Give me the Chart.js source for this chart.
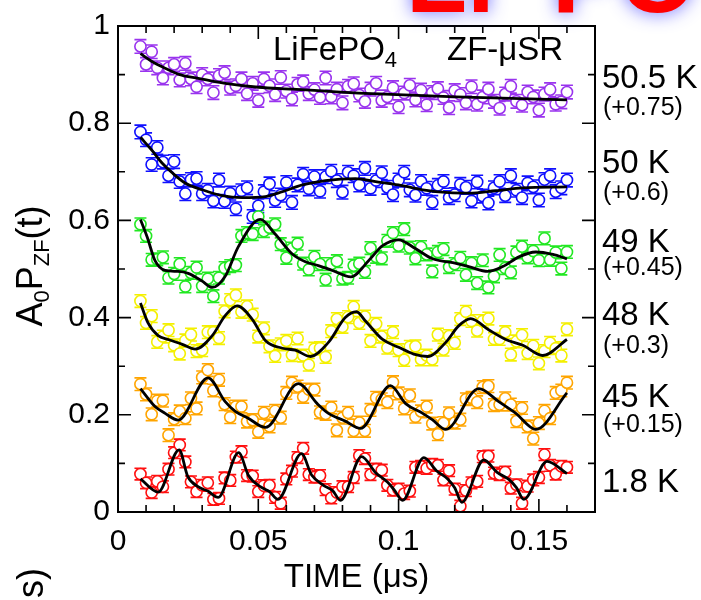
<!DOCTYPE html>
<html>
<head>
<meta charset="utf-8">
<script src="https://cdn.jsdelivr.net/npm/chart.js@4.4.0/dist/chart.umd.min.js"></script>
<style>
  html, body { margin: 0; padding: 0; background: #fff; }
  #wrap { width: 701px; height: 600px; }
</style>
</head>
<body>
<div id="wrap"><canvas id="muonChart" width="701" height="600"></canvas></div>
<script>
// tempos das medidas (us)
const times = [0.008,0.010,0.012,0.014,0.016,0.018,0.020,0.022,0.024,0.026,0.028,0.030,0.032,0.034,0.036,0.038,0.040,0.042,0.044,0.046,
  0.048,0.050,0.052,0.054,0.056,0.058,0.060,0.062,0.064,0.066,0.068,0.070,0.072,0.074,0.076,0.078,0.080,0.082,0.084,0.086,
  0.088,0.090,0.092,0.094,0.096,0.098,0.100,0.102,0.104,0.106,0.108,0.110,0.112,0.114,0.116,0.118,0.120,0.122,0.124,0.126,
  0.128,0.130,0.132,0.134,0.136,0.138,0.140,0.142,0.144,0.146,0.148,0.150,0.152,0.154,0.156,0.158,0.160];

// A0P(t) medido, ja com o deslocamento de cada curva
const asym18 = [0.078,0.060,0.040,0.063,0.052,0.088,0.122,0.138,0.103,0.062,0.042,0.055,0.060,0.026,0.028,0.070,0.065,0.113,0.124,0.075,
  0.074,0.042,0.054,0.055,0.030,0.018,0.068,0.084,0.112,0.131,0.077,0.072,0.075,0.046,0.029,0.040,0.052,0.052,0.071,0.116,
  0.110,0.077,0.088,0.086,0.055,0.045,0.047,0.038,0.043,0.092,0.094,0.090,0.098,0.096,0.066,0.085,0.047,0.012,0.044,0.060,
  0.063,0.114,0.115,0.080,0.077,0.082,0.049,0.056,0.018,0.053,0.066,0.071,0.118,0.096,0.078,0.094,0.092];
const asym45 = [0.263,0.242,0.201,0.229,0.229,0.158,0.191,0.207,0.193,0.234,0.213,0.277,0.292,0.250,0.272,0.222,0.195,0.217,0.217,0.186,
  0.189,0.165,0.204,0.176,0.208,0.194,0.245,0.266,0.258,0.237,0.252,0.252,0.205,0.202,0.215,0.168,0.194,0.204,0.167,0.184,
  0.167,0.210,0.235,0.232,0.226,0.267,0.244,0.213,0.240,0.196,0.207,0.217,0.182,0.160,0.183,0.203,0.184,0.190,0.232,0.235,
  0.226,0.257,0.259,0.220,0.221,0.234,0.221,0.187,0.214,0.176,0.151,0.183,0.208,0.193,0.245,0.250,0.266];
const asym48 = [0.434,0.389,0.403,0.350,0.361,0.374,0.343,0.326,0.353,0.365,0.331,0.333,0.370,0.370,0.358,0.413,0.436,0.446,0.412,0.423,
  0.406,0.361,0.378,0.341,0.321,0.345,0.352,0.323,0.357,0.322,0.303,0.336,0.337,0.319,0.372,0.397,0.381,0.401,0.422,0.389,
  0.402,0.352,0.387,0.361,0.338,0.370,0.333,0.313,0.340,0.341,0.314,0.322,0.314,0.365,0.334,0.362,0.348,0.397,0.412,0.393,
  0.373,0.393,0.398,0.356,0.356,0.370,0.324,0.351,0.364,0.327,0.342,0.306,0.331,0.348,0.337,0.322,0.376];
const asym49 = [0.592,0.568,0.519,0.520,0.524,0.482,0.490,0.510,0.464,0.492,0.503,0.465,0.480,0.444,0.482,0.502,0.506,0.508,0.568,0.574,
  0.572,0.608,0.578,0.585,0.592,0.551,0.523,0.542,0.552,0.511,0.499,0.525,0.510,0.478,0.510,0.516,0.480,0.482,0.507,0.511,
  0.494,0.543,0.525,0.522,0.558,0.574,0.548,0.582,0.544,0.522,0.545,0.530,0.495,0.535,0.541,0.504,0.510,0.523,0.488,0.512,
  0.471,0.518,0.462,0.485,0.529,0.502,0.493,0.534,0.546,0.524,0.537,0.518,0.563,0.519,0.534,0.501,0.535];
const asym50 = [0.782,0.766,0.715,0.750,0.720,0.692,0.721,0.680,0.655,0.684,0.686,0.655,0.662,0.640,0.683,0.639,0.656,0.624,0.661,0.667,
  0.608,0.630,0.659,0.675,0.641,0.652,0.678,0.637,0.673,0.695,0.665,0.690,0.660,0.690,0.701,0.682,0.658,0.699,0.692,0.673,
  0.707,0.666,0.682,0.698,0.668,0.653,0.683,0.699,0.663,0.652,0.680,0.666,0.637,0.672,0.680,0.647,0.653,0.674,0.668,0.640,
  0.679,0.650,0.636,0.667,0.680,0.651,0.692,0.662,0.647,0.677,0.669,0.642,0.684,0.692,0.659,0.667,0.683];
const asym505 = [0.958,0.921,0.947,0.914,0.893,0.914,0.921,0.889,0.923,0.891,0.875,0.900,0.891,0.863,0.898,0.904,0.872,0.877,0.891,0.861,
  0.882,0.847,0.891,0.877,0.859,0.894,0.866,0.850,0.880,0.885,0.861,0.869,0.853,0.893,0.854,0.870,0.842,0.876,0.881,0.858,
  0.845,0.870,0.882,0.847,0.854,0.873,0.834,0.862,0.878,0.848,0.868,0.838,0.863,0.871,0.853,0.832,0.867,0.859,0.842,0.875,
  0.839,0.854,0.870,0.845,0.831,0.860,0.876,0.845,0.837,0.864,0.854,0.827,0.860,0.869,0.839,0.844,0.864];

// curvas de ajuste
const fitT18 = [0.008,0.0143,0.0218,0.0248,0.0285,0.032,0.0357,0.043,0.0465,0.0507,0.054,0.057,0.0654,0.069,0.0732,0.0765,0.0793,
  0.0868,0.0918,0.0961,0.0985,0.1014,0.109,0.1135,0.1175,0.120,0.1225,0.1304,0.135,0.1393,0.142,0.1446,0.1529,0.160];
const fitV18 = [0.068,0.041,0.128,0.074,0.052,0.043,0.030,0.122,0.075,0.052,0.042,0.026,0.120,0.076,0.055,0.044,0.024,
  0.114,0.081,0.061,0.045,0.024,0.112,0.085,0.068,0.050,0.020,0.107,0.082,0.067,0.050,0.026,0.104,0.079];
const fitT45 = [0.008,0.0132,0.0168,0.0214,0.0321,0.0382,0.0418,0.0464,0.0525,0.0643,0.071,0.075,0.081,0.0864,0.0971,0.1025,
  0.1086,0.112,0.1168,0.1286,0.1357,0.1418,0.1489,0.160];
const fitV45 = [0.254,0.217,0.203,0.189,0.276,0.227,0.207,0.193,0.174,0.264,0.223,0.203,0.187,0.172,0.260,0.223,
  0.203,0.190,0.170,0.254,0.227,0.203,0.170,0.245];
const fitT48 = [0.008,0.0107,0.0143,0.0179,0.0229,0.0275,0.0336,0.0382,0.0425,0.0479,0.0525,0.0586,0.0632,0.0686,0.075,0.081,
  0.085,0.0882,0.0943,0.100,0.1054,0.1104,0.1168,0.1214,0.1257,0.1321,0.1382,0.1443,0.1514,0.160];
const fitV48 = [0.430,0.389,0.363,0.355,0.345,0.335,0.363,0.404,0.424,0.396,0.353,0.337,0.333,0.320,0.349,0.400,
  0.412,0.393,0.355,0.339,0.325,0.320,0.349,0.383,0.398,0.375,0.355,0.343,0.322,0.355];
const fitT49 = [0.008,0.0104,0.0132,0.0168,0.0214,0.025,0.030,0.0336,0.0382,0.0429,0.0507,0.056,0.0621,0.0668,0.0714,0.0764,
  0.083,0.0893,0.0943,0.100,0.106,0.1121,0.1193,0.125,0.1318,0.1371,0.1429,0.1489,0.155,0.160];
const fitV49 = [0.602,0.566,0.517,0.497,0.495,0.491,0.475,0.462,0.485,0.546,0.602,0.572,0.531,0.515,0.507,0.497,
  0.484,0.517,0.548,0.560,0.542,0.521,0.513,0.505,0.495,0.505,0.525,0.535,0.530,0.521];
const fitT50 = [0.008,0.0121,0.0157,0.0193,0.0239,0.030,0.0371,0.0443,0.0525,0.0586,0.0657,0.0739,0.0846,0.0918,0.100,0.1086,
  0.1179,0.125,0.1346,0.1443,0.160];
const fitV50 = [0.771,0.744,0.718,0.698,0.677,0.663,0.651,0.647,0.649,0.659,0.673,0.682,0.686,0.680,0.673,0.663,
  0.657,0.656,0.661,0.667,0.669];
const fitT505 = [0.008,0.0121,0.0168,0.0214,0.0286,0.0382,0.050,0.0621,0.0739,0.0857,0.1204,0.160];
const fitV505 = [0.943,0.927,0.913,0.901,0.892,0.882,0.874,0.870,0.866,0.862,0.854,0.848];

// barras de erro (meia largura)
const errBars = [0.012, 0.013, 0.013, 0.013, 0.014, 0.014];

const seriesColors = ['#ff1010', '#ffa500', '#f4f000', '#22e822', '#1010ff', '#9933ee'];
const tempLabels = ['1.8 K', '45 K', '48 K', '49 K', '50 K', '50.5 K'];
const shiftLabels = ['', '(+0.15)', '(+0.3)', '(+0.45)', '(+0.6)', '(+0.75)'];

const allData = [asym18, asym45, asym48, asym49, asym50, asym505];
const allFitT = [fitT18, fitT45, fitT48, fitT49, fitT50, fitT505];
const allFitV = [fitV18, fitV45, fitV48, fitV49, fitV50, fitV505];

const FONT = "'Liberation Sans', Arial, sans-serif";

const datasets = [];
allData.forEach(function(vals, i) {
    datasets.push({
        type: 'scatter',
        data: vals.map(function(v, k) { return {x: times[k], y: v}; }),
        errY: errBars[i],
        borderColor: seriesColors[i],
        backgroundColor: '#ffffff',
        pointRadius: 5.6,
        pointBorderWidth: 1.6,
        pointStyle: 'circle',
        order: 2
    });
});
allFitT.forEach(function(ts, i) {
    datasets.push({
        type: 'line',
        data: ts.map(function(t, k) { return {x: t, y: allFitV[i][k]}; }),
        borderColor: '#000',
        borderWidth: 2.8,
        pointRadius: 0,
        fill: false,
        cubicInterpolationMode: 'monotone',
        order: 0
    });
});

// barras de erro
const errorBarPlugin = {
    id: 'errorBars',
    beforeDatasetsDraw(chart) {
        const {ctx, scales: {x, y}} = chart;
        chart.data.datasets.forEach(function(ds) {
            if (!ds.errY) return;
            ctx.save();
            ctx.strokeStyle = ds.borderColor;
            ctx.lineWidth = 1.6;
            ctx.beginPath();
            ds.data.forEach(function(p) {
                const px = x.getPixelForValue(p.x);
                const yt = y.getPixelForValue(p.y + ds.errY);
                const yb = y.getPixelForValue(p.y - ds.errY);
                ctx.moveTo(px, yt); ctx.lineTo(px, yb);
                ctx.moveTo(px - 6, yt); ctx.lineTo(px + 6, yt);
                ctx.moveTo(px - 6, yb); ctx.lineTo(px + 6, yb);
            });
            ctx.stroke();
            ctx.restore();
        });
    }
};

// moldura e marcas para dentro nos quatro lados
const framePlugin = {
    id: 'frame',
    afterDatasetsDraw(chart) {
        const {ctx, chartArea: a, scales: {x, y}} = chart;
        ctx.save();
        ctx.strokeStyle = '#000';
        ctx.lineWidth = 2;
        ctx.strokeRect(a.left, a.top, a.right - a.left, a.bottom - a.top);
        ctx.lineWidth = 1.6;
        ctx.beginPath();
        for (let i = 0; i <= 17; i++) {
            const px = x.getPixelForValue(i * 0.01);
            const len = (i % 5 === 0) ? 13 : 7;
            ctx.moveTo(px, a.bottom); ctx.lineTo(px, a.bottom - len);
            ctx.moveTo(px, a.top); ctx.lineTo(px, a.top + len);
        }
        for (let j = 0; j <= 10; j++) {
            const py = y.getPixelForValue(j * 0.1);
            const len = (j % 2 === 0) ? 13 : 7;
            ctx.moveTo(a.left, py); ctx.lineTo(a.left + len, py);
            ctx.moveTo(a.right, py); ctx.lineTo(a.right - len, py);
        }
        ctx.stroke();
        ctx.restore();
    }
};

// textos: eixo y, rotulos das temperaturas, etc
const textPlugin = {
    id: 'texts',
    afterDraw(chart) {
        const {ctx} = chart;
        ctx.save();
        ctx.fillStyle = '#000';
        ctx.textBaseline = 'alphabetic';

        // titulo do eixo y: A0PZF(t)
        ctx.save();
        ctx.translate(42, 266);
        ctx.rotate(-Math.PI / 2);
        const parts = [['A', 36, 0], ['0', 22, 7], ['P', 36, 0], ['ZF', 22, 7], ['(t)', 36, 0]];
        let total = 0;
        parts.forEach(function(p) { ctx.font = p[1] + 'px ' + FONT; total += ctx.measureText(p[0]).width; });
        let cx = -total / 2;
        parts.forEach(function(p) {
            ctx.font = p[1] + 'px ' + FONT;
            ctx.fillText(p[0], cx, p[2]);
            cx += ctx.measureText(p[0]).width;
        });
        ctx.restore();

        // rotulos dentro do grafico
        ctx.font = '33px ' + FONT;
        ctx.fillText('LiFePO', 273, 60);
        const w = ctx.measureText('LiFePO').width;
        ctx.font = '22px ' + FONT;
        ctx.fillText('4', 273 + w, 67);
        ctx.font = '33px ' + FONT;
        ctx.fillText('ZF-\u03bcSR', 447, 60);

        // temperaturas a direita
        const tBase = [492, 407, 325, 252, 173, 88];
        const sBase = [0, 432, 353, 275, 200, 115];
        tempLabels.forEach(function(t, i) {
            ctx.font = '33px ' + FONT;
            ctx.fillText(t, 602, tBase[i]);
            if (shiftLabels[i]) {
                ctx.font = '25px ' + FONT;
                ctx.fillText(shiftLabels[i], 603, sBase[i]);
            }
        });

        // pedaco de rotulo cortado no canto
        ctx.save();
        ctx.translate(43, 568);
        ctx.rotate(-Math.PI / 2);
        ctx.font = '36px ' + FONT;
        ctx.textAlign = 'right';
        ctx.fillText('TIME (\u03bcs)', 0, 0);
        ctx.restore();

        // titulo vermelho cortado no topo
        ctx.save();
        ctx.shadowColor = 'rgba(70,70,255,0.85)';
        ctx.shadowBlur = 18;
        ctx.fillStyle = '#ff0000';
        ctx.font = 'bold 100px ' + FONT;
        ctx.fillText('Li', 406, 12);
        ctx.fillText('PO', 552, 12);
        ctx.restore();

        ctx.restore();
    }
};

function shortNum(v) { return String(+v.toFixed(2)); }

window.onload = function() {
    const ctx = document.getElementById('muonChart').getContext('2d');
    new Chart(ctx, {
        type: 'scatter',
        data: { datasets: datasets },
        options: {
            responsive: false,
            animation: false,
            layout: { padding: { left: 0, top: 19, right: 106, bottom: 0 } },
            plugins: { legend: { display: false }, tooltip: { enabled: false } },
            scales: {
                x: {
                    type: 'linear', min: 0, max: 0.17,
                    grid: { display: false, drawTicks: false },
                    border: { display: false },
                    ticks: { stepSize: 0.05, includeBounds: false, autoSkip: false, maxRotation: 0,
                             padding: 12, color: '#000', font: { family: FONT, size: 30 },
                             callback: shortNum },
                    title: { display: true, text: 'TIME (\u03bcs)', color: '#000',
                             font: { family: FONT, size: 33 }, padding: { top: 0, bottom: 2 } },
                    afterFit: function(s) { s.height = 88; }
                },
                y: {
                    min: 0, max: 1,
                    grid: { display: false, drawTicks: false },
                    border: { display: false },
                    ticks: { stepSize: 0.2, padding: 8, color: '#000', font: { family: FONT, size: 30 },
                             callback: shortNum },
                    afterFit: function(s) { s.width = 118; }
                }
            }
        },
        plugins: [errorBarPlugin, framePlugin, textPlugin]
    });
};
</script>
</body>
</html>
